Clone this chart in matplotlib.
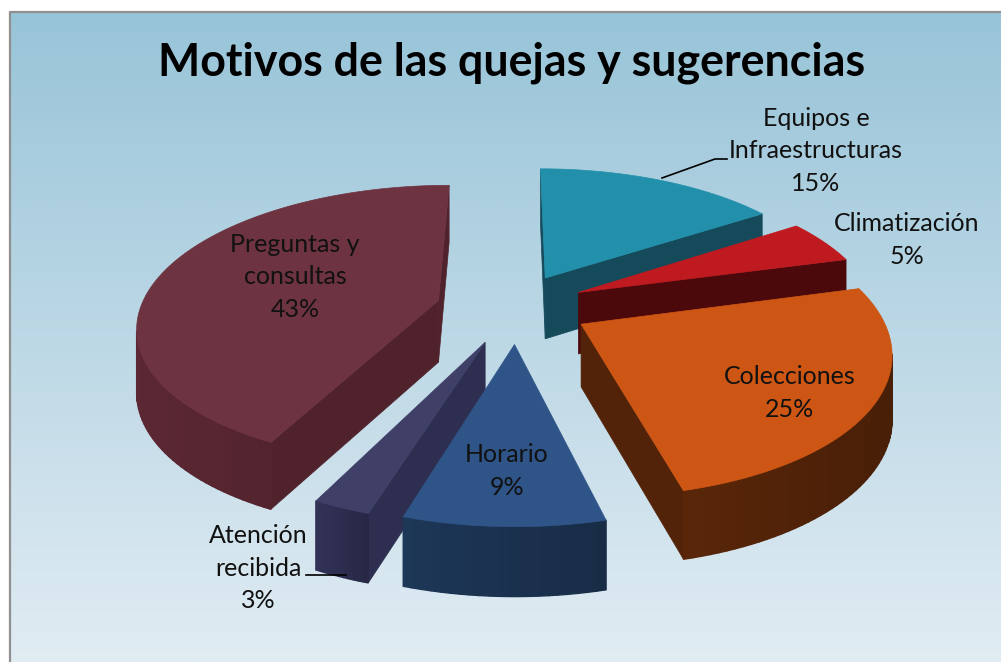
import matplotlib
matplotlib.use('Agg')
import matplotlib.pyplot as plt
from matplotlib.patches import Polygon
import numpy as np

plt.rcParams['font.family'] = ['Lato', 'DejaVu Sans']

# Datos
titulo = 'Motivos de las quejas y sugerencias'
motivos = ['Equipos e\nInfraestructuras', 'Climatización', 'Colecciones', 'Horario',
           'Atención\nrecibida', 'Preguntas y\nconsultas']
valores = [15, 5, 25, 9, 3, 43]

# Colores: cara superior, pared exterior, corte
col_top = ['#2390AB', '#BE1A20', '#CD5614', '#2F5488', '#3F3F68', '#6E3340']
col_wall = ['#154A5A', '#500A0C', '#522308', '#1B3250', '#2D2E50', '#53242E']
col_cut = ['#154A5A', '#4C090B', '#522308', '#1B3250', '#2D2E50', '#4F222C']

# Posicion de las etiquetas (pixeles)
pos_x = [816, 907, 790, 507, 258, 295]
pos_y = [151, 240, 393, 471, 568, 277]

# Geometria de la tarta
CX, CY = 512, 308
R = 298
EXPLODE = 76
TILT = 0.46
PERSP = 0.17
DEPTH = 62
# la camara no esta centrada: el borde gira un poco segun el angulo
WARP_ANG = np.radians([0, 54, 72, 162, 194, 205, 283, 360])
WARP_VAL = np.radians([0, 2.6, 2.9, 4.0, 3.0, 1.2, 1.5, 0])


def proj(x, y):
    s = 1 / (1 + PERSP * y / R)
    return CX + x * s, CY - TILT * y * s, DEPTH * np.sqrt(s)


def warp(a):
    return a + np.interp(a, WARP_ANG, WARP_VAL)


def area(pts):
    a = 0
    for i in range(len(pts)):
        x0, y0 = pts[i]
        x1, y1 = pts[(i + 1) % len(pts)]
        a += x0 * y1 - x1 * y0
    return a


def shade(color, f):
    rgb = np.array(matplotlib.colors.to_rgb(color)) * f
    return tuple(np.clip(rgb, 0, 1))


fig = plt.figure(figsize=(10.01, 6.62), dpi=100)
ax = fig.add_axes([0, 0, 1, 1])
ax.set_xlim(0, 1001)
ax.set_ylim(662, 0)
ax.axis('off')

# Fondo con degradado
top = np.array([152, 196, 216]) / 255
bottom = np.array([225, 236, 243]) / 255
t = np.linspace(0, 1, 256)[:, None, None]
grad = top * (1 - t) + bottom * t
ax.imshow(grad, extent=[10, 1001, 662, 12], aspect='auto', zorder=0)
ax.plot([10, 10, 1001], [662, 12, 12], color='#909090', lw=1.6, zorder=1)

# Angulos de cada sector (horario desde arriba)
fin = np.cumsum(valores) / sum(valores) * 2 * np.pi
ini = np.concatenate([[0], fin[:-1]])

# Orden de dibujo de atras hacia delante
orden = [0, 1, 5, 2, 4, 3]
z = 2
for i in orden:
    a0, a1 = ini[i], fin[i]
    med = (a0 + a1) / 2
    ox, oy = EXPLODE * np.sin(med), EXPLODE * np.cos(med)
    th = warp(np.linspace(a0, a1, max(int((a1 - a0) * 40), 12)))
    xs = ox + R * np.sin(th)
    ys = oy + R * np.cos(th)
    px, py, pd = proj(xs, ys)
    ax_, ay_, ad_ = proj(ox, oy)

    # Cortes rectos
    cut0 = [(ax_, ay_), (px[0], py[0]), (px[0], py[0] + pd[0]), (ax_, ay_ + ad_)]
    cut1 = [(ax_, ay_), (px[-1], py[-1]), (px[-1], py[-1] + pd[-1]), (ax_, ay_ + ad_)]
    if area(cut0) < 0:
        ax.add_patch(Polygon(cut0, fc=col_cut[i], ec=col_cut[i], lw=0.5, zorder=z))
    if area(cut1) > 0:
        ax.add_patch(Polygon(cut1, fc=col_cut[i], ec=col_cut[i], lw=0.5, zorder=z))
    z += 1

    # Pared exterior
    for j in range(len(th) - 1):
        q = [(px[j], py[j]), (px[j + 1], py[j + 1]),
             (px[j + 1], py[j + 1] + pd[j + 1]), (px[j], py[j] + pd[j])]
        if area(q) < 0:
            f = 1.1 - 0.22 * (px[j] - px.min()) / (px.max() - px.min())
            c = shade(col_wall[i], f)
            ax.add_patch(Polygon(q, fc=c, ec=c, lw=1.0, zorder=z))
    z += 1

    # Cara superior
    ptop = [(ax_, ay_)] + list(zip(px, py))
    ax.add_patch(Polygon(ptop, fc=col_top[i], ec=col_top[i], lw=0.5, zorder=z))
    z += 1

# Lineas guia
ax.plot([662, 715, 727], [178, 159, 159], color='black', lw=1.2, zorder=50)
ax.plot([306, 346], [575, 575], color='black', lw=1.2, zorder=50)

# Textos
ax.text(512, 63, titulo, fontsize=32.2, fontweight='bold', ha='center', va='center',
        color='black', zorder=60)
for i in range(len(motivos)):
    ax.text(pos_x[i], pos_y[i], motivos[i] + '\n' + str(valores[i]) + '%', fontsize=18,
            ha='center', va='center', linespacing=1.5, color='#111111', zorder=60)

fig.savefig('out.png', dpi=100)
